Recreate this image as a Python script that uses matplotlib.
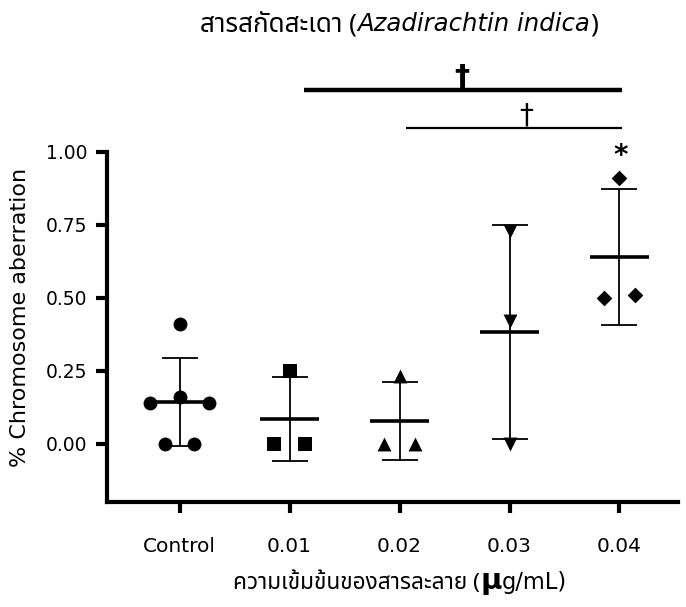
import numpy as np
import matplotlib
matplotlib.use("Agg")
import matplotlib.pyplot as plt

# ---------------- data ----------------
categories = ["Control", "0.01", "0.02", "0.03", "0.04"]
control = [0.41, 0.14, 0.16, 0.14, 0.0, 0.0]
conc_001 = [0.25, 0.0, 0.0]
conc_002 = [0.23, 0.0, 0.0]
conc_003 = [0.73, 0.42, 0.0]
conc_004 = [0.91, 0.50, 0.51]
yticks = [0.0, 0.25, 0.5, 0.75, 1.0]
ytick_labels = ["0.00", "0.25", "0.50", "0.75", "1.00"]
title_thai = "สารสกัดสะเดา ("
title_latin = "Azadirachtin indica"
title_close = ")"
xlabel_thai = "ความเข้มข้นของสารละลาย ("
xlabel_mu = "μ"
xlabel_unit = "g/mL)"
ylabel = "% Chromosome aberration"

plt.rcParams["font.family"] = ["DejaVu Sans"]
THAI = ["Noto Sans Thai", "Noto Sans", "DejaVu Sans"]

groups = [control, conc_001, conc_002, conc_003, conc_004]
markers = ["o", "s", "^", "v", "D"]
msizes = [10, 10, 10, 10, 8]
offsets = [
    [0.0, -0.27, 0.0, 0.27, -0.13, 0.13],
    [0.0, -0.14, 0.14],
    [0.0, -0.14, 0.14],
    [0.0, 0.0, 0.0],
    [0.0, -0.14, 0.14],
]

W, H = 686, 607
fig = plt.figure(figsize=(W / 100, H / 100), dpi=100)
ax = fig.add_axes([0.156, 0.173, 0.832, 0.577])

for i, (vals, m, ms, off) in enumerate(zip(groups, markers, msizes, offsets)):
    vals = np.asarray(vals)
    mean = vals.mean()
    sd = vals.std(ddof=1)
    ax.errorbar(i, mean, yerr=sd, fmt="none", ecolor="black", elinewidth=1.3,
                capsize=13, capthick=1.3, zorder=2)
    ax.plot([i - 0.27, i + 0.27], [mean, mean], color="black", lw=2.6, zorder=3,
            solid_capstyle="butt")
    ax.scatter(np.full(len(vals), i) + np.asarray(off), vals, marker=m,
               s=ms ** 2, color="black", zorder=4, linewidths=0)

ax.set_xlim(-0.66, 4.53)
ax.set_ylim(-0.2, 1.0)
ax.set_xticks(range(len(categories)))
ax.set_xticklabels(categories, fontsize=14.5)
ax.set_yticks(yticks)
ax.set_yticklabels(ytick_labels, fontsize=13.5)
ax.tick_params(axis="both", direction="out", length=8, width=3, pad=6)
ax.tick_params(axis="x", pad=17)
for s in ["top", "right"]:
    ax.spines[s].set_visible(False)
for s in ["left", "bottom"]:
    ax.spines[s].set_linewidth(3)

# significance brackets
ax.plot([1.13, 4.02], [1.212, 1.212], color="black", lw=3.2, clip_on=False,
        solid_capstyle="butt")
ax.plot([2.06, 4.02], [1.082, 1.082], color="black", lw=1.6, clip_on=False,
        solid_capstyle="butt")
ax.text(2.57, 1.205, "\u2020", ha="center", va="bottom", fontsize=22,
        fontweight="bold", clip_on=False)
ax.text(3.15, 1.075, "\u2020", ha="center", va="bottom", fontsize=20,
        clip_on=False)
ax.text(4.01, 0.995, "*", ha="center", va="center_baseline", fontsize=20,
        fontweight="bold", clip_on=False)

ax.set_ylabel(ylabel, fontsize=16)
ax.yaxis.set_label_coords(-0.135, 0.528)


def compose(pieces, x0, x1, baseline_px):
    """Lay text pieces side by side on one baseline, scaled to span x0..x1 px."""
    r = fig.canvas.get_renderer()
    objs = []
    for s, kw in pieces:
        objs.append(fig.text(0, 1 - baseline_px / H, s, ha="left",
                             va="baseline", **kw))
    total = sum(t.get_window_extent(r).width for t in objs)
    k = (x1 - x0) / total
    for t in objs:
        t.set_fontsize(t.get_fontsize() * k)
    widths = [t.get_window_extent(r).width for t in objs]
    x = x0 + ((x1 - x0) - sum(widths)) / 2
    for t, w in zip(objs, widths):
        t.set_x(x / W)
        x += w


compose([(title_thai, dict(fontsize=16, family=THAI)),
         (title_latin, dict(fontsize=15, family=["DejaVu Sans"], style="italic")),
         (title_close, dict(fontsize=16, family=THAI))],
        200, 598, 31)
compose([(xlabel_thai, dict(fontsize=14, family=THAI)),
         (xlabel_mu, dict(fontsize=18, family=["DejaVu Sans"], weight="bold")),
         (xlabel_unit, dict(fontsize=14, family=["DejaVu Sans"]))],
        233, 567, 589)

fig.savefig("out.png", dpi=100)
